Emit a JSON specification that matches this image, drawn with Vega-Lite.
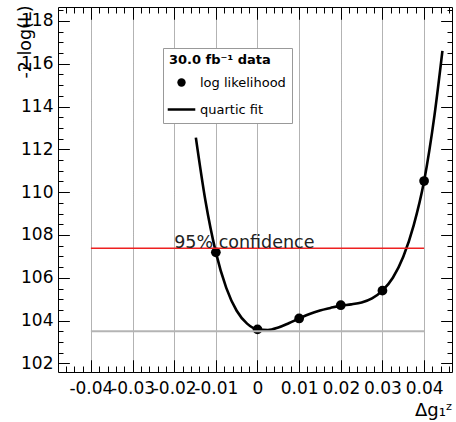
{
  "$schema": "https://vega.github.io/schema/vega-lite/v6.json",
  "width": 394,
  "height": 365,
  "autosize": {"type": "none"},
  "padding": {"left": 58, "top": 7, "right": 4, "bottom": 50},
  "background": "white",
  "config": {
    "font": "DejaVu Sans",
    "view": {"stroke": "black", "strokeWidth": 1},
    "axis": {
      "domain": false,
      "ticks": false,
      "tickSize": 0,
      "labelColor": "black",
      "titleColor": "black",
      "titleFontWeight": "normal",
      "labelOverlap": false,
      "labelFlush": false,
      "labelBound": false
    }
  },
  "resolve": {"axis": {"x": "independent", "y": "independent"}},
  "datasets": {
    "scan": [
      {"dg": -0.01, "nll": 107.19, "series": "log likelihood"},
      {"dg": 0.0, "nll": 103.59, "series": "log likelihood"},
      {"dg": 0.01, "nll": 104.1, "series": "log likelihood"},
      {"dg": 0.02, "nll": 104.72, "series": "log likelihood"},
      {"dg": 0.03, "nll": 105.4, "series": "log likelihood"},
      {"dg": 0.04, "nll": 110.52, "series": "log likelihood"}
    ],
    "fit": [
      {"dg": -0.0148, "nll": 112.55, "series": "quartic fit"},
      {"dg": -0.0125, "nll": 109.6, "series": "quartic fit"},
      {"dg": -0.01, "nll": 107.19, "series": "quartic fit"},
      {"dg": -0.0075, "nll": 105.53, "series": "quartic fit"},
      {"dg": -0.005, "nll": 104.46, "series": "quartic fit"},
      {"dg": -0.0025, "nll": 103.86, "series": "quartic fit"},
      {"dg": 0.0, "nll": 103.59, "series": "quartic fit"},
      {"dg": 0.0025, "nll": 103.56, "series": "quartic fit"},
      {"dg": 0.005, "nll": 103.68, "series": "quartic fit"},
      {"dg": 0.0075, "nll": 103.88, "series": "quartic fit"},
      {"dg": 0.01, "nll": 104.1, "series": "quartic fit"},
      {"dg": 0.0125, "nll": 104.31, "series": "quartic fit"},
      {"dg": 0.015, "nll": 104.47, "series": "quartic fit"},
      {"dg": 0.0175, "nll": 104.59, "series": "quartic fit"},
      {"dg": 0.02, "nll": 104.7, "series": "quartic fit"},
      {"dg": 0.0225, "nll": 104.76, "series": "quartic fit"},
      {"dg": 0.025, "nll": 104.85, "series": "quartic fit"},
      {"dg": 0.0275, "nll": 105.04, "series": "quartic fit"},
      {"dg": 0.03, "nll": 105.4, "series": "quartic fit"},
      {"dg": 0.0325, "nll": 106.0, "series": "quartic fit"},
      {"dg": 0.035, "nll": 106.98, "series": "quartic fit"},
      {"dg": 0.0375, "nll": 108.45, "series": "quartic fit"},
      {"dg": 0.04, "nll": 110.52, "series": "quartic fit"},
      {"dg": 0.0425, "nll": 113.6, "series": "quartic fit"},
      {"dg": 0.0444, "nll": 116.6, "series": "quartic fit"}
    ],
    "levels": [
      {"name": "minimum", "from": -0.04, "to": 0.04, "nll": 103.5},
      {"name": "confidence", "from": -0.04, "to": 0.04, "nll": 107.38}
    ],
    "notes": [
      {"label": "95% confidence", "dg": -0.02, "nll": 107.38}
    ]
  },
  "layer": [
    {
      "data": {"name": "fit"},
      "mark": {"type": "line", "strokeWidth": 2.6, "interpolate": "monotone"},
      "encoding": {
        "x": {
          "field": "dg", "type": "quantitative",
          "scale": {"domain": [-0.0479, 0.0467], "nice": false, "zero": false},
          "axis": {
            "orient": "bottom",
            "values": [-0.046, -0.044, -0.042, -0.04, -0.038, -0.036, -0.034, -0.032, -0.03, -0.028, -0.026, -0.024, -0.022, -0.02, -0.018, -0.016, -0.014, -0.012, -0.01, -0.008, -0.006, -0.004, -0.002, 0, 0.002, 0.004, 0.006, 0.008, 0.01, 0.012, 0.014, 0.016, 0.018, 0.02, 0.022, 0.024, 0.026, 0.028, 0.03, 0.032, 0.034, 0.036, 0.038, 0.04, 0.042, 0.044, 0.046],
            "labelExpr": "abs(datum.value * 100 - round(datum.value * 100)) < 1e-6 ? (round(datum.value * 100) == 0 ? '0' : '' + round(datum.value * 100) / 100) : ''",
            "labelFontSize": 17,
            "labelPadding": 8,
            "grid": true,
            "gridWidth": 1,
            "gridColor": {
              "condition": {"test": "abs(datum.value * 100 - round(datum.value * 100)) < 1e-6", "value": "#666666"},
              "value": "black"
            },
            "gridDash": {
              "condition": {"test": "abs(datum.value * 100 - round(datum.value * 100)) < 1e-6", "value": [1, 1]},
              "value": [6, 353, 6, 1000]
            },
            "title": "Δg₁ᶻ",
            "titleFontSize": 18,
            "titleAlign": "right",
            "titleBaseline": "alphabetic",
            "titleX": 394,
            "titleY": 43
          }
        },
        "y": {
          "field": "nll", "type": "quantitative",
          "scale": {"domain": [101.6, 118.65], "nice": false, "zero": false},
          "axis": {
            "orient": "left",
            "values": [102, 102.5, 103, 103.5, 104, 104.5, 105, 105.5, 106, 106.5, 107, 107.5, 108, 108.5, 109, 109.5, 110, 110.5, 111, 111.5, 112, 112.5, 113, 113.5, 114, 114.5, 115, 115.5, 116, 116.5, 117, 117.5, 118, 118.5],
            "labelExpr": "datum.value % 2 === 0 ? '' + datum.value : ''",
            "labelFontSize": 17,
            "labelPadding": 5,
            "grid": true,
            "gridColor": "black",
            "gridWidth": 1,
            "gridDash": {
              "condition": {"test": "datum.value % 2 === 0", "value": [11, 372, 11, 1000]},
              "value": [5, 384, 5, 1000]
            },
            "title": "-2 log(L)",
            "titleFontSize": 17.5,
            "titleAngle": -90,
            "titleAlign": "right",
            "titleBaseline": "middle",
            "titleX": -33,
            "titleY": -2
          }
        },
        "color": {
          "field": "series", "type": "nominal",
          "scale": {"domain": ["log likelihood", "quartic fit"], "range": ["black", "black"]},
          "legend": {
            "orient": "none",
            "legendX": 105,
            "legendY": 41,
            "title": "30.0 fb⁻¹ data",
            "titleFontSize": 13,
            "titleFontWeight": "bold",
            "titleColor": "black",
            "titlePadding": 9,
            "labelFontSize": 13,
            "labelColor": "black",
            "labelOffset": 12,
            "symbolOffset": 6,
            "symbolType": {"expr": "datum.value === 'quartic fit' ? 'stroke' : 'circle'"},
            "symbolSize": {"expr": "datum.value === 'quartic fit' ? 760 : 70"},
            "symbolStrokeWidth": {"expr": "datum.value === 'quartic fit' ? 2.5 : 0"},
            "symbolStrokeColor": "black",
            "symbolFillColor": "black",
            "rowPadding": 13,
            "padding": 6,
            "fillColor": "white",
            "strokeColor": "#999999"
          }
        }
      }
    },
    {
      "data": {"name": "scan"},
      "mark": {"type": "point", "filled": true, "size": 95, "opacity": 1},
      "encoding": {
        "x": {
          "field": "dg", "type": "quantitative",
          "axis": {
            "orient": "bottom",
            "values": [-0.04, -0.03, -0.02, -0.01, 0, 0.01, 0.02, 0.03, 0.04],
            "labels": false,
            "grid": true,
            "gridColor": "black",
            "gridOpacity": 1,
            "gridWidth": 1,
            "gridDash": [12, 341, 12, 1000],
            "title": null
          }
        },
        "y": {
          "field": "nll", "type": "quantitative",
          "axis": {
            "orient": "left",
            "values": [102, 104, 106, 108, 110, 112, 114, 116, 118],
            "labels": false,
            "grid": true,
            "gridColor": "black",
            "gridOpacity": 1,
            "gridWidth": 1,
            "gridDash": [11, 372, 11, 1000],
            "title": null
          }
        },
        "color": {"field": "series", "type": "nominal"}
      }
    },
    {
      "data": {"name": "levels"},
      "transform": [{"filter": "datum.name === 'confidence'"}],
      "mark": {"type": "rule", "color": "#ee2020", "strokeWidth": 1.3},
      "encoding": {
        "x": {
          "field": "from", "type": "quantitative",
          "axis": {
            "orient": "bottom",
            "values": [-0.04, -0.03, -0.02, -0.01, 0, 0.01, 0.02, 0.03, 0.04],
            "labels": false,
            "grid": true,
            "gridColor": "black",
            "gridOpacity": 1,
            "gridWidth": 1,
            "gridDash": [12, 341, 12, 1000],
            "title": null
          }
        },
        "x2": {"field": "to"},
        "y": {
          "field": "nll", "type": "quantitative",
          "axis": {
            "orient": "left",
            "values": [102, 104, 106, 108, 110, 112, 114, 116, 118],
            "labels": false,
            "grid": true,
            "gridColor": "black",
            "gridOpacity": 1,
            "gridWidth": 1,
            "gridDash": [11, 372, 11, 1000],
            "title": null
          }
        }
      }
    },
    {
      "data": {"name": "levels"},
      "transform": [{"filter": "datum.name === 'minimum'"}],
      "mark": {"type": "rule", "color": "#b4b4b4", "strokeWidth": 2},
      "encoding": {
        "x": {"field": "from", "type": "quantitative", "axis": null},
        "x2": {"field": "to"},
        "y": {"field": "nll", "type": "quantitative", "axis": null}
      }
    },
    {
      "data": {"name": "notes"},
      "mark": {"type": "text", "align": "left", "baseline": "alphabetic", "fontSize": 17.5, "color": "#222222"},
      "encoding": {
        "x": {"field": "dg", "type": "quantitative", "axis": null},
        "y": {"field": "nll", "type": "quantitative", "axis": null},
        "text": {"field": "label"}
      }
    }
  ]
}
